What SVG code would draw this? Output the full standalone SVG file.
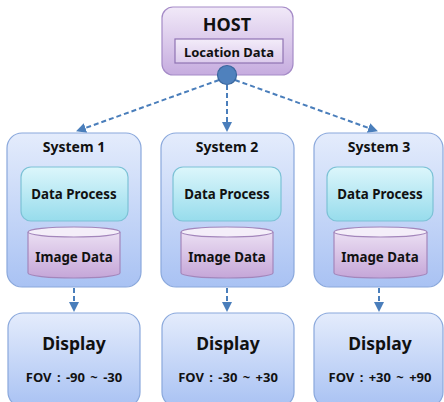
<svg xmlns="http://www.w3.org/2000/svg" width="444" height="402" viewBox="0 0 444 402">
  <defs>
    <linearGradient id="gHost" x1="0" y1="0" x2="0" y2="1">
      <stop offset="0" stop-color="#f1e9f8"/>
      <stop offset="1" stop-color="#c6acdf"/>
    </linearGradient>
    <linearGradient id="gLoc" x1="0" y1="0" x2="0" y2="1">
      <stop offset="0" stop-color="#f3ecf9"/>
      <stop offset="1" stop-color="#dccbec"/>
    </linearGradient>
    <linearGradient id="gSys" x1="0" y1="0" x2="0" y2="1">
      <stop offset="0" stop-color="#e4ecfc"/>
      <stop offset="1" stop-color="#a9c2f3"/>
    </linearGradient>
    <linearGradient id="gProc" x1="0" y1="0" x2="0" y2="1">
      <stop offset="0" stop-color="#dcf6fb"/>
      <stop offset="1" stop-color="#97dcec"/>
    </linearGradient>
    <linearGradient id="gCyl" x1="0" y1="0" x2="0" y2="1">
      <stop offset="0" stop-color="#ebdff3"/>
      <stop offset="1" stop-color="#c5a6d8"/>
    </linearGradient>
    <marker id="arrow" viewBox="0 0 10 10" refX="9" refY="5" markerWidth="5" markerHeight="5" orient="auto" markerUnits="strokeWidth">
      <path d="M0,0 L10,5 L0,10 z" fill="#4a7ebb"/>
    </marker>
  </defs>
  <style>
    text { font-family: "Noto Sans", "Open Sans", "Liberation Sans", sans-serif; font-weight: bold; fill: #111; text-anchor: middle; }
    .sys { fill: url(#gSys); stroke: #8aa8dc; stroke-width: 1.2; }
    .proc { fill: url(#gProc); stroke: #7cc2d6; stroke-width: 1.2; }
    .cyl { fill: url(#gCyl); stroke: #a386bb; stroke-width: 1.2; }
    .cyltop { fill: #f4eef9; stroke: #a386bb; stroke-width: 1.2; }
    .link { fill: none; stroke: #4a7ebb; stroke-width: 2; stroke-dasharray: 5 3; marker-end: url(#arrow); }
    .t-sys { font-size: 14px; }
    .t-in { font-size: 13.3px; }
    .t-disp { font-size: 17.5px; }
    .t-fov { font-size: 13px; word-spacing: 2px; }
  </style>

  <!-- connectors -->
  <g id="connectors">
    <line class="link" x1="219" y1="80" x2="77" y2="131"/>
    <line class="link" x1="227" y1="85" x2="227" y2="131"/>
    <line class="link" x1="235" y1="80" x2="377" y2="131"/>
    <line class="link" x1="74" y1="288" x2="74" y2="311"/>
    <line class="link" x1="227" y1="288" x2="227" y2="311"/>
    <line class="link" x1="379" y1="288" x2="379" y2="311"/>
  </g>

  <!-- host -->
  <g id="host">
    <rect x="162" y="7" width="131" height="68" rx="11" fill="url(#gHost)" stroke="#a58bc7" stroke-width="1.2"/>
    <text x="227" y="31" font-size="18">HOST</text>
    <rect x="175" y="39" width="108" height="24" fill="url(#gLoc)" stroke="#8f73b3" stroke-width="1.2"/>
    <text x="229" y="57" font-size="13">Location Data</text>
    <circle cx="227" cy="75" r="9.5" fill="#4f81bd" stroke="#3a679e" stroke-width="1.2"/>
  </g>

  <!-- system 1 -->
  <g id="system1">
    <rect class="sys" x="7" y="133" width="134" height="154" rx="15"/>
    <text class="t-sys" x="74" y="152">System 1</text>
    <rect class="proc" x="21" y="167" width="107" height="54" rx="10"/>
    <text class="t-in" x="74" y="199">Data Process</text>
    <path class="cyl" d="M28,232 L28,273 A46,5 0 0 0 120,273 L120,232"/>
    <ellipse class="cyltop" cx="74" cy="232" rx="46" ry="5"/>
    <text class="t-in" x="74" y="262">Image Data</text>
  </g>

  <!-- system 2 -->
  <g id="system2">
    <rect class="sys" x="161" y="133" width="133" height="154" rx="15"/>
    <text class="t-sys" x="227" y="152">System 2</text>
    <rect class="proc" x="173" y="167" width="108" height="54" rx="10"/>
    <text class="t-in" x="227" y="199">Data Process</text>
    <path class="cyl" d="M181,232 L181,273 A46,5 0 0 0 273,273 L273,232"/>
    <ellipse class="cyltop" cx="227" cy="232" rx="46" ry="5"/>
    <text class="t-in" x="227" y="262">Image Data</text>
  </g>

  <!-- system 3 -->
  <g id="system3">
    <rect class="sys" x="314" y="133" width="129" height="154" rx="15"/>
    <text class="t-sys" x="379" y="152">System 3</text>
    <rect class="proc" x="327" y="167" width="106" height="54" rx="10"/>
    <text class="t-in" x="380" y="199">Data Process</text>
    <path class="cyl" d="M334,232 L334,273 A46.5,5 0 0 0 427,273 L427,232"/>
    <ellipse class="cyltop" cx="380.5" cy="232" rx="46.5" ry="5"/>
    <text class="t-in" x="380" y="262">Image Data</text>
  </g>

  <!-- displays -->
  <g id="display1">
    <rect class="sys" x="8" y="313" width="132" height="94" rx="15"/>
    <text class="t-disp" x="74" y="350">Display</text>
    <text class="t-fov" x="74" y="382">FOV : -90 ~ -30</text>
  </g>
  <g id="display2">
    <rect class="sys" x="162" y="313" width="132" height="94" rx="15"/>
    <text class="t-disp" x="228" y="350">Display</text>
    <text class="t-fov" x="228" y="382">FOV : -30 ~ +30</text>
  </g>
  <g id="display3">
    <rect class="sys" x="314" y="313" width="129" height="94" rx="15"/>
    <text class="t-disp" x="380" y="350">Display</text>
    <text class="t-fov" x="380" y="382">FOV : +30 ~ +90</text>
  </g>
</svg>
